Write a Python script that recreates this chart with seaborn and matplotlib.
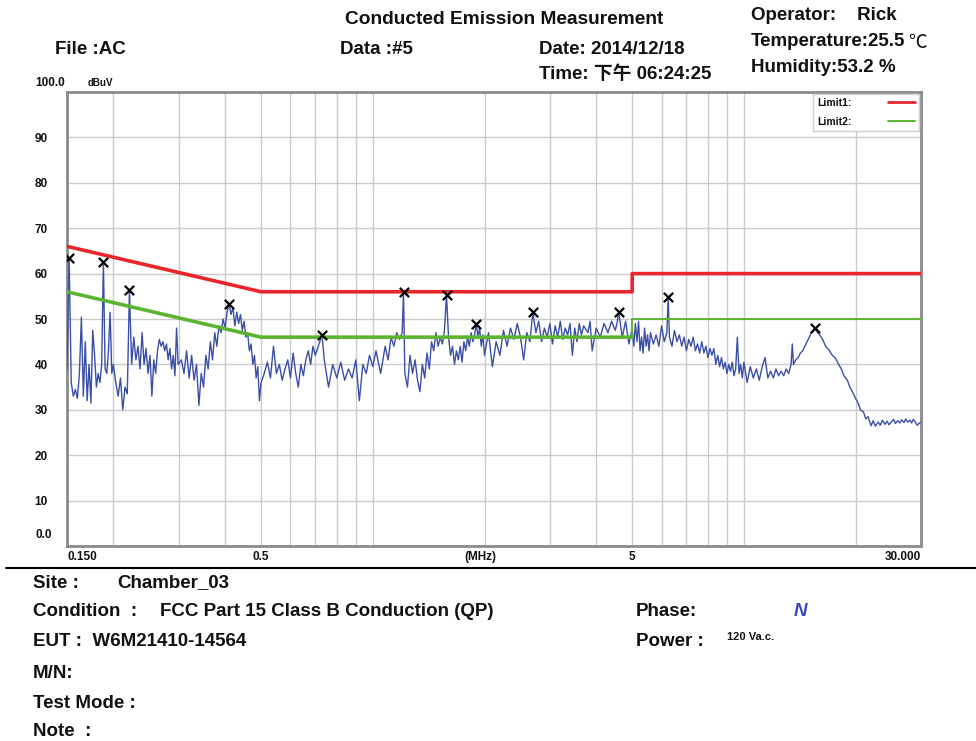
import numpy as np
import pandas as pd
import matplotlib.pyplot as plt
from matplotlib.lines import Line2D
from matplotlib.ticker import NullLocator
import seaborn as sns

# ---------------------------------------------------------------------------
# Limit lines (FCC Part 15 class B, QP = Limit1, AV = Limit2)
# ---------------------------------------------------------------------------
limit1_f = [0.15, 0.5, 5.0, 5.0, 30.0]
limit1_db = [66.0, 56.0, 56.0, 60.0, 60.0]
limit2_f = [0.15, 0.5, 5.0, 5.0, 30.0]
limit2_db = [56.0, 46.0, 46.0, 50.0, 50.0]

# peaks flagged with an x
peak_f = [0.152, 0.188, 0.221, 0.41, 0.73, 1.21, 1.58, 1.90, 2.70, 4.60, 6.25, 15.5]
peak_db = [63.4, 62.6, 56.4, 53.3, 46.5, 56.0, 55.3, 49.0, 51.5, 51.5, 54.8, 48.0]

# ---------------------------------------------------------------------------
# Measured trace, read off the scan in pieces (MHz / dBuV)
# ---------------------------------------------------------------------------
trace_f_a = [0.150, 0.152, 0.154, 0.156, 0.158, 0.160, 0.162, 0.164, 0.166, 0.168,
             0.170, 0.172, 0.174, 0.176, 0.178, 0.180, 0.182, 0.184, 0.186, 0.188,
             0.190, 0.192, 0.194, 0.196, 0.198, 0.200]
trace_db_a = [38.8, 63.4, 36.0, 33.0, 34.5, 32.5, 38.0, 50.4, 33.0, 45.0,
              32.0, 40.0, 31.5, 47.5, 42.0, 35.0, 38.0, 36.0, 40.0, 62.6,
              39.0, 38.0, 43.0, 51.5, 38.0, 40.0]

trace_f_b = [0.203, 0.206, 0.209, 0.212, 0.215, 0.218, 0.221, 0.224, 0.227, 0.230,
             0.233, 0.236, 0.239, 0.242, 0.245, 0.248, 0.251, 0.254, 0.257, 0.260,
             0.263, 0.266, 0.269, 0.272, 0.275, 0.278, 0.281, 0.284, 0.287, 0.290,
             0.293, 0.296, 0.299]
trace_db_b = [36.0, 33.0, 37.0, 30.0, 35.0, 33.5, 56.4, 40.0, 46.0, 41.0,
              44.0, 39.0, 47.0, 40.0, 43.5, 38.0, 42.0, 33.0, 41.0, 38.0,
              43.0, 45.5, 44.0, 45.0, 43.0, 44.5, 41.0, 43.5, 39.0, 42.0,
              37.5, 48.0, 40.0]

trace_f_c = [0.305, 0.310, 0.315, 0.320, 0.325, 0.330, 0.335, 0.340, 0.345, 0.350,
             0.355, 0.360, 0.365, 0.370, 0.375, 0.380, 0.385, 0.390, 0.395, 0.400,
             0.405, 0.410, 0.415, 0.420, 0.425, 0.430, 0.435, 0.440, 0.445, 0.450,
             0.455, 0.460, 0.465, 0.470, 0.475, 0.480, 0.485, 0.490, 0.495, 0.500]
trace_db_c = [41.0, 38.0, 43.0, 37.0, 42.0, 36.5, 40.0, 31.0, 38.0, 35.0,
              42.0, 39.0, 45.0, 41.0, 47.0, 44.0, 48.5, 47.0, 50.0, 48.0,
              51.5, 53.3, 51.0, 52.5, 48.5, 51.5, 49.0, 51.0, 47.5, 49.5,
              46.0, 47.0, 43.0, 44.5, 40.0, 42.0, 37.0, 39.5, 32.0, 36.0]

trace_f_d = [0.51, 0.52, 0.53, 0.54, 0.55, 0.56, 0.57, 0.58, 0.59, 0.60,
             0.61, 0.62, 0.63, 0.64, 0.65, 0.66, 0.67, 0.68, 0.69, 0.70,
             0.72, 0.73, 0.74, 0.76, 0.78, 0.80, 0.82, 0.84, 0.86, 0.88,
             0.90, 0.92, 0.94, 0.96, 0.98, 1.00]
trace_db_d = [38.0, 40.5, 37.0, 44.0, 38.0, 40.0, 36.5, 39.0, 41.0, 37.0,
              42.5, 38.0, 35.0, 40.0, 37.5, 41.0, 43.0, 40.0, 44.0, 42.0,
              45.0, 46.5, 41.0, 35.0, 40.0, 37.0, 40.5, 36.5, 39.0, 37.0,
              41.0, 32.0, 40.0, 38.0, 42.0, 39.5]

trace_f_e = [1.02, 1.05, 1.08, 1.10, 1.12, 1.14, 1.16, 1.18, 1.20, 1.21,
             1.22, 1.24, 1.26, 1.28, 1.30, 1.32, 1.34, 1.36, 1.38, 1.40,
             1.42, 1.44, 1.46, 1.48, 1.50, 1.52, 1.54, 1.56, 1.58, 1.60,
             1.62, 1.64, 1.66, 1.68, 1.70, 1.72, 1.74, 1.76, 1.78, 1.80,
             1.82, 1.84, 1.86, 1.88, 1.90, 1.92, 1.94, 1.96, 1.98, 2.00]
trace_db_e = [43.0, 38.0, 44.0, 41.0, 46.0, 44.0, 47.0, 45.5, 47.0, 56.0,
              38.0, 35.0, 42.0, 38.0, 41.0, 36.5, 34.0, 40.0, 37.0, 42.5,
              39.0, 45.0, 43.0, 47.0, 44.0, 46.0, 44.5, 47.5, 55.3, 46.0,
              42.0, 44.0, 40.0, 43.0, 41.0, 44.0, 40.5, 45.0, 43.0, 46.0,
              44.0, 47.0, 45.0, 46.5, 49.0, 46.0, 48.0, 44.0, 46.5, 42.0]

trace_f_g = [2.05, 2.10, 2.15, 2.20, 2.25, 2.30, 2.35, 2.40, 2.45, 2.50,
             2.55, 2.60, 2.65, 2.70, 2.75, 2.80, 2.85, 2.90, 2.95, 3.00,
             3.05, 3.10, 3.15, 3.20, 3.25, 3.30, 3.35, 3.40, 3.45, 3.50,
             3.55, 3.60, 3.65, 3.70, 3.80, 3.85, 3.90, 4.00, 4.10, 4.20,
             4.30, 4.40, 4.50, 4.55, 4.60, 4.70, 4.80, 4.90, 5.00]
trace_db_g = [47.0, 39.5, 45.0, 42.0, 47.5, 44.0, 48.0, 45.5, 49.0, 46.0,
              41.0, 47.0, 45.0, 51.5, 47.0, 49.5, 45.0, 48.0, 46.0, 49.0,
              44.5, 48.5, 46.0, 49.5, 45.5, 48.0, 46.5, 49.0, 42.0, 48.0,
              45.0, 49.0, 46.5, 48.5, 47.0, 49.5, 43.0, 48.0, 46.0, 49.0,
              47.0, 49.5, 47.5, 49.0, 51.5, 46.0, 49.5, 44.5, 48.0]

trace_f_h = [5.05, 5.1, 5.15, 5.2, 5.25, 5.3, 5.35, 5.4, 5.45, 5.5,
             5.55, 5.6, 5.7, 5.8, 5.9, 6.0, 6.1, 6.2, 6.25, 6.3,
             6.4, 6.5, 6.6, 6.7, 6.8, 6.9, 7.0, 7.1, 7.2, 7.3,
             7.4, 7.5, 7.6, 7.7, 7.8, 7.9, 8.0, 8.1, 8.2, 8.3,
             8.4, 8.5, 8.6, 8.7, 8.8, 8.9, 9.0, 9.1, 9.2, 9.3,
             9.4, 9.5, 9.6, 9.7, 9.8, 9.9, 10.0]
trace_db_h = [44.0, 49.0, 45.0, 49.5, 43.0, 46.0, 42.5, 48.0, 44.0, 46.5,
              43.0, 47.0, 44.5, 46.5, 44.0, 48.5, 45.0, 47.0, 54.8, 46.0,
              44.0, 47.5, 45.0, 46.5, 44.0, 46.0, 43.0, 45.5, 44.0, 46.0,
              43.0, 44.5, 42.5, 45.0, 42.5, 44.0, 41.5, 43.5, 42.0, 43.5,
              40.0, 42.0, 39.5, 41.5, 39.0, 40.5, 38.0, 40.0, 38.5, 40.5,
              37.5, 39.0, 46.0, 38.0, 40.0, 37.0, 40.5]

trace_f_k = [10.2, 10.4, 10.6, 10.8, 11.0, 11.2, 11.4, 11.6, 11.8, 12.0,
             12.2, 12.4, 12.6, 12.8, 13.0, 13.2, 13.4, 13.5, 13.6, 13.8,
             14.0, 14.2, 14.4, 14.6, 14.8, 15.0, 15.2, 15.5, 15.8, 16.0,
             16.3, 16.6, 17.0, 17.3, 17.6, 18.0, 18.3, 18.6, 19.0, 19.3,
             19.6, 20.0, 20.3, 20.6, 21.0, 21.3, 21.6, 22.0, 22.3, 22.6,
             23.0, 23.3, 23.6, 24.0, 24.3, 24.6, 25.0, 25.3, 25.6, 26.0,
             26.3, 26.6, 27.0, 27.3, 27.6, 28.0, 28.3, 28.6, 29.0, 29.3,
             29.6, 30.0]
trace_db_k = [36.0, 39.5, 37.0, 39.0, 36.5, 39.5, 41.5, 37.0, 38.5, 37.0,
              39.0, 37.5, 38.5, 37.5, 39.0, 38.0, 40.0, 44.5, 40.0, 41.0,
              41.5, 42.5, 43.0, 44.0, 45.0, 46.0, 47.0, 48.0, 47.0, 46.5,
              45.5, 44.0, 43.0, 42.0, 41.5, 40.0, 39.0, 37.5, 36.5, 35.0,
              34.0, 32.5, 31.5, 30.0, 29.5, 28.0, 28.5, 26.5, 27.6, 26.4,
              27.3, 26.6, 27.7, 26.8, 27.5, 26.7, 27.4, 27.9, 27.0, 27.6,
              27.1, 27.8, 27.2, 28.0, 27.3, 27.7, 27.1, 27.9, 27.2, 26.6,
              27.0, 27.3]

grid_f = [0.2, 0.3, 0.4, 0.5, 0.6, 0.7, 0.8, 0.9, 1, 2, 3, 4, 5, 6, 7, 8, 9, 10, 20]

trace = pd.DataFrame({
    "freq": np.concatenate([trace_f_a, trace_f_b, trace_f_c, trace_f_d,
                            trace_f_e, trace_f_g, trace_f_h, trace_f_k]),
    "level": np.concatenate([trace_db_a, trace_db_b, trace_db_c, trace_db_d,
                             trace_db_e, trace_db_g, trace_db_h, trace_db_k]),
})

# ---------------------------------------------------------------------------
# Figure
# ---------------------------------------------------------------------------
sns.set_style("white")
plt.rcParams["font.family"] = ["Liberation Sans", "Noto Sans CJK SC", "DejaVu Sans"]
plt.rcParams["font.weight"] = "bold"
plt.rcParams["text.color"] = "#111111"
plt.rcParams["ytick.color"] = "#111111"

W, H = 976, 741
fig = plt.figure(figsize=(W / 100, H / 100), dpi=100)
ax = fig.add_axes([67 / W, 195 / H, 854 / W, 454 / H])


def ftext(x, y, s, **kw):
    fig.text(x / W, 1 - y / H, s, va="center", **kw)


sns.lineplot(data=trace, x="freq", y="level", estimator=None, sort=False,
             color="#3b4fa6", lw=1.0, ax=ax, zorder=3)
sns.lineplot(x=limit1_f, y=limit1_db, estimator=None, sort=False,
             color="#e8262b", lw=2.6, ax=ax, zorder=4)
sns.lineplot(x=limit2_f[:3], y=limit2_db[:3], estimator=None, sort=False,
             color="#5cb531", lw=2.6, ax=ax, zorder=4)
sns.lineplot(x=limit2_f[2:], y=limit2_db[2:], estimator=None, sort=False,
             color="#5cb531", lw=1.4, ax=ax, zorder=4)
sns.scatterplot(x=peak_f, y=peak_db, marker="x", color="black", s=45,
                linewidth=1.6, ax=ax, zorder=6)

ax.set_xscale("log")
ax.set_xlim(0.15, 30)
ax.set_ylim(0, 100)
ax.set_xticks(grid_f)
ax.set_xticklabels([])
ax.xaxis.set_minor_locator(NullLocator())
ax.set_yticks(range(10, 100, 10))
ax.set_yticklabels([str(v) for v in range(10, 100, 10)], fontsize=8.5, fontweight="bold")
ax.tick_params(length=0)
ax.tick_params(axis="y", pad=14)
ax.set_xlabel("")
ax.set_ylabel("")
ax.set_axisbelow(True)
ax.grid(True, color="#cbcbcb", lw=1)
for sp in ax.spines.values():
    sp.set_color("#8a8a8a")
    sp.set_linewidth(2)

leg_handles = [Line2D([], [], color="#e8262b", lw=2),
               Line2D([], [], color="#5cb531", lw=1.4)]
leg = ax.legend(leg_handles, ["Limit1:", "Limit2:"], loc="upper right",
                markerfirst=False, handlelength=2.6, handletextpad=3.5,
                borderaxespad=0.15, fancybox=False, framealpha=1,
                edgecolor="#d0d0d0", prop={"size": 7.5, "weight": "bold"},
                labelspacing=0.9)

# x labels under the axes
xt = ax.get_xaxis_transform()
ax.text(0.15, -0.024, "0.150", transform=xt, ha="left", va="center", fontsize=8.5)
ax.text(0.5, -0.024, "0.5", transform=xt, ha="center", va="center", fontsize=8.5)
ax.text(1.95, -0.024, "(MHz)", transform=xt, ha="center", va="center", fontsize=8.5)
ax.text(5, -0.024, "5", transform=xt, ha="center", va="center", fontsize=8.5)
ax.text(30, -0.024, "30.000", transform=xt, ha="right", va="center", fontsize=8.5)

ftext(44, 535, "0.0", ha="center", fontsize=8.5)
ftext(50, 83, "100.0", ha="center", fontsize=8.5)
ftext(100, 83, "dBuV", ha="center", fontsize=7)

# header
hs = 13.5
ftext(504, 19, "Conducted Emission Measurement", ha="center", fontsize=13.8)
ftext(55, 49, "File :AC", fontsize=hs)
ftext(340, 49, "Data :#5", fontsize=hs)
ftext(539, 49, "Date: 2014/12/18", fontsize=hs)
ftext(539, 74, "Time: 下午 06:24:25", fontsize=hs)
ftext(751, 16, "Operator:    Rick", fontsize=hs)
ftext(751, 42, "Temperature:25.5", fontsize=hs)
ftext(908, 43, "℃", fontsize=hs, fontweight="normal")
ftext(751, 67, "Humidity:53.2 %", fontsize=hs)

# footer
fig.add_artist(Line2D([6 / W, 1], [1 - 568 / H, 1 - 568 / H], color="black", lw=1.5))
ftext(33, 583, "Site :", fontsize=hs)
ftext(117, 583, "Chamber_03", fontsize=hs)
ftext(33, 611, "Condition  :", fontsize=hs)
ftext(160, 611, "FCC Part 15 Class B Conduction (QP)", fontsize=hs)
ftext(636, 611, "Phase:", fontsize=hs)
ftext(800, 611, "N", ha="center", fontsize=hs, color="#3a48b8", style="italic")
ftext(33, 642, "EUT :  W6M21410-14564", fontsize=hs)
ftext(636, 642, "Power :", fontsize=hs)
ftext(727, 637, "120 Va.c.", fontsize=8)
ftext(33, 673, "M/N:", fontsize=hs)
ftext(33, 703, "Test Mode :", fontsize=hs)
ftext(33, 731, "Note  :", fontsize=hs)

fig.savefig("out.png", dpi=100)
